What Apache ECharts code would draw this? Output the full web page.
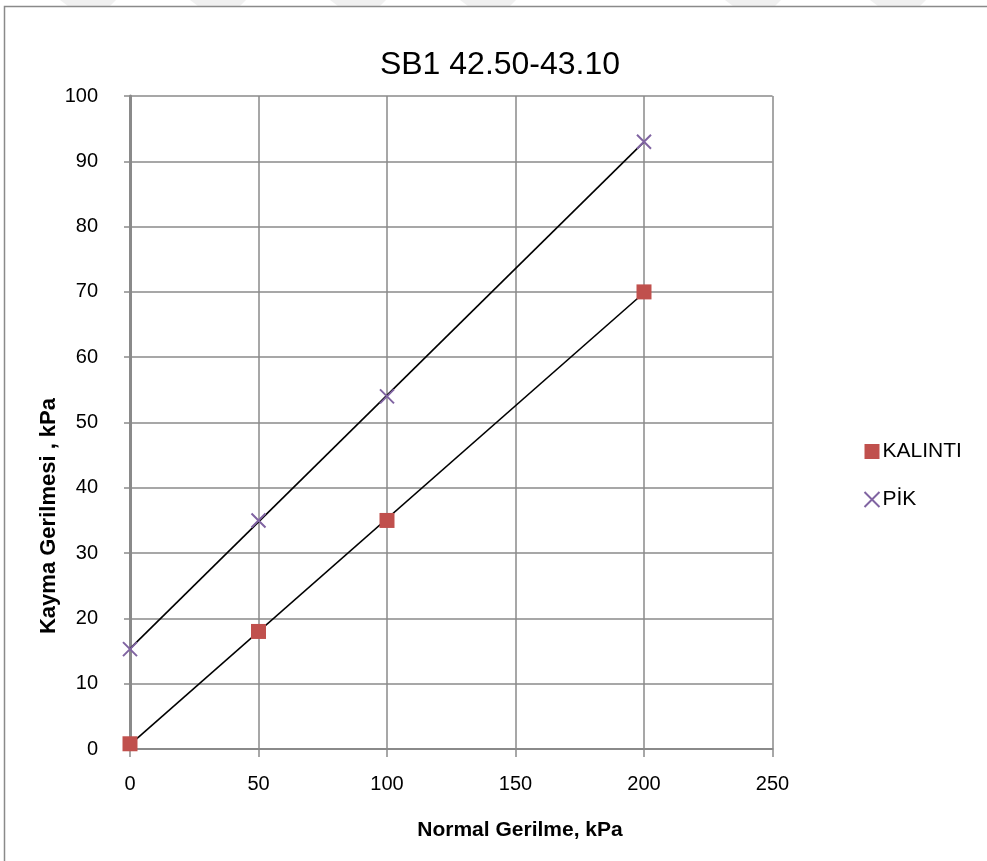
<!DOCTYPE html>
<html>
<head>
<meta charset="utf-8">
<script src="https://cdn.jsdelivr.net/npm/echarts@6/dist/echarts.min.js"></script>
<style>
html,body{margin:0;padding:0;background:#fff;}
#chart{width:987px;height:861px;}
</style>
</head>
<body>
<div id="chart"></div>
<script>
// ---- data ----
const titleText = 'SB1 42.50-43.10';
const xAxisName = 'Normal Gerilme, kPa';
const yAxisName = 'Kayma Gerilmesi , kPa';
const seriesNames = ['KALINTI', 'PİK'];
const normalStress = [0, 50, 100, 200];
const kalintiValues = [0.8, 18, 35, 70];
const pikValues = [15.3, 35, 54, 93];
const xTicks = [0, 50, 100, 150, 200, 250];
const yTicks = [0, 10, 20, 30, 40, 50, 60, 70, 80, 90, 100];

// linear trendline (least squares) drawn between the first and last x
function trend(xs, ys) {
  const n = xs.length;
  const mx = xs.reduce((a, b) => a + b, 0) / n;
  const my = ys.reduce((a, b) => a + b, 0) / n;
  let sxy = 0, sxx = 0;
  for (let i = 0; i < n; i++) { sxy += (xs[i] - mx) * (ys[i] - my); sxx += (xs[i] - mx) ** 2; }
  const b = sxy / sxx, a = my - b * mx;
  const x0 = Math.min(...xs), x1 = Math.max(...xs);
  return [[x0, a + b * x0], [x1, a + b * x1]];
}

const FONT = '"Liberation Sans", Arial, sans-serif';
const gridColor = '#8a8a8a';
const chart = echarts.init(document.getElementById('chart'), null, {renderer: 'canvas'});

const stripes = [60, 190, 330, 460, 725, 870].map(x => ({
  type: 'polygon', silent: true, z: -10,
  shape: {points: [[x, 0], [x + 56, 0], [x + 50, 6], [x + 8, 6]]},
  style: {fill: '#f0f0f0'}
}));

chart.setOption({
  animation: false,
  backgroundColor: '#fff',
  title: {
    text: titleText, left: 495, top: 44, textAlign: 'center',
    textStyle: {fontFamily: FONT, fontSize: 32, fontWeight: 'normal', color: '#000'}
  },
  grid: {left: 130, right: 214.5, top: 96, bottom: 112, containLabel: false},
  legend: {
    orient: 'vertical', left: 857, top: 436, itemGap: 27,
    itemWidth: 15, itemHeight: 15,
    data: seriesNames,
    textStyle: {fontFamily: FONT, fontSize: 21, color: '#000', padding: [0, 0, 0, -2]},
    selectedMode: false
  },
  xAxis: {
    type: 'value', min: 0, max: 250, interval: 50,
    axisLine: {show: true, lineStyle: {color: gridColor, width: 2}},
    axisTick: {show: true, length: 8, lineStyle: {color: gridColor, width: 1.5}},
    axisLabel: {margin: 25, fontFamily: FONT, fontSize: 20, color: '#000',
      formatter: v => xTicks.includes(v) ? String(v) : ''},
    splitLine: {show: true, lineStyle: {color: gridColor, width: 1.5}}
  },
  yAxis: {
    type: 'value', min: 0, max: 100, interval: 10,
    axisLine: {show: true, onZero: false, lineStyle: {color: gridColor, width: 3}},
    axisTick: {show: true, length: 6, lineStyle: {color: gridColor, width: 1.5}},
    axisLabel: {margin: 32, fontFamily: FONT, fontSize: 20, color: '#000',
      formatter: v => yTicks.includes(v) ? String(v) : ''},
    splitLine: {show: true, lineStyle: {color: gridColor, width: 1.5}}
  },
  graphic: stripes.concat([
    {type: 'rect', silent: true, z: -5,
     shape: {x: 4.5, y: 6.5, width: 990, height: 870},
     style: {fill: 'none', stroke: '#8a8a8a', lineWidth: 1.5}},
    {type: 'text', silent: true, x: 49, y: 516, rotation: Math.PI / 2,
     style: {text: yAxisName, fontFamily: FONT, fontSize: 22, fontWeight: 'bold',
       fill: '#000', textAlign: 'center', textVerticalAlign: 'middle'}},
    {type: 'text', silent: true, x: 520, y: 830,
     style: {text: xAxisName, fontFamily: FONT, fontSize: 21, fontWeight: 'bold',
       fill: '#000', textAlign: 'center', textVerticalAlign: 'middle'}}
  ]),
  series: [
    {
      name: seriesNames[0], type: 'scatter', symbol: 'rect', symbolSize: 15,
      itemStyle: {color: '#c0504d', opacity: 1},
      data: normalStress.map((x, i) => [x, kalintiValues[i]]), z: 5
    },
    {
      name: seriesNames[1], type: 'scatter',
      symbol: 'path://M0,0L10,10M10,0L0,10', symbolSize: 14,
      itemStyle: {color: 'none', borderColor: '#8064a2', borderWidth: 2, opacity: 1},
      data: normalStress.map((x, i) => [x, pikValues[i]]), z: 5
    },
    {
      type: 'line', silent: true, symbol: 'none', z: 4,
      lineStyle: {color: '#000', width: 1.6},
      data: trend(normalStress, kalintiValues)
    },
    {
      type: 'line', silent: true, symbol: 'none', z: 4,
      lineStyle: {color: '#000', width: 1.6},
      data: trend(normalStress, pikValues)
    }
  ]
});
</script>
</body>
</html>
